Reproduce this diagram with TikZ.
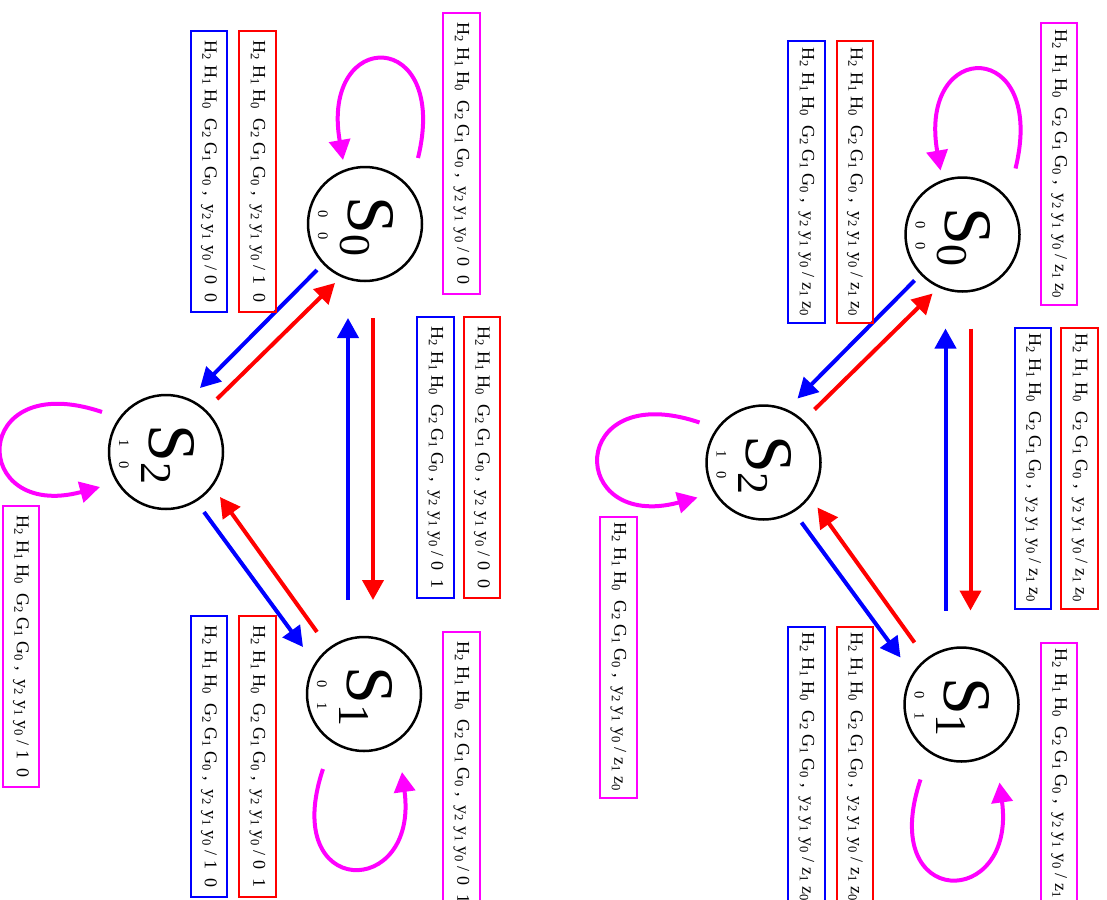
\documentclass[tikz,border=0pt]{standalone}
\usepackage{fontspec}
\setmainfont{Liberation Serif}
\usetikzlibrary{arrows.meta,calc}
\definecolor{cB}{RGB}{0,0,255}
\definecolor{cR}{RGB}{255,0,0}
\definecolor{cM}{RGB}{255,0,255}
\tikzset{
  state/.style={circle,draw=black,line width=2.5pt,minimum size=114pt,inner sep=0pt},
  bigname/.style={rotate=-90,anchor=base,inner sep=0pt},
  smallcode/.style={rotate=-90,anchor=base,inner sep=0pt,font=\fontsize{14.5}{15}\selectfont},
  lblbox/.style={rotate=-90,draw,line width=2pt,minimum width=281pt,minimum height=36.5pt,inner sep=0pt,font=\fontsize{18}{20}\selectfont},
  trans/.style={line width=4pt,-{Triangle[length=20pt,width=21pt]}},
}
\newcommand\stname[1]{{\fontsize{68}{68}\selectfont S}{\fontsize{44}{44}\selectfont\raisebox{-8pt}{#1}}}
\newcommand\lbl[1]{H\textsubscript{2} H\textsubscript{1} H\textsubscript{0}\ \ G\textsubscript{2} G\textsubscript{1} G\textsubscript{0} ,\ \ y\textsubscript{2} y\textsubscript{1} y\textsubscript{0} / #1}
\newcommand\fsm[2]{%
  \begin{scope}[shift={#2}]
    \node[state] (#1S0) at (365,224) {};
    \node[state] (#1S1) at (364,694) {};
    \node[state] (#1S2) at (166,452) {};
    \node[bigname] (#1S0n) at ($(#1S0)+(-17,2.5)$) {\stname{0}};
    \node[bigname] (#1S1n) at ($(#1S1)+(-17,2.5)$) {\stname{1}};
    \node[bigname] (#1S2n) at ($(#1S2)+(-17,2.5)$) {\stname{2}};
    \node[smallcode] (#1S0c) at ($(#1S0)+(-47,1)$) {0\quad 0};
    \node[smallcode] (#1S1c) at ($(#1S1)+(-47,1)$) {0\quad 1};
    \node[smallcode] (#1S2c) at ($(#1S2)+(-47,2)$) {1\quad 0};
    % transitions
    \draw[trans,cB] ($(#1S0)+(-48,46)$) -- ($(#1S2)+(34,-64)$);
    \draw[trans,cR] ($(#1S2)+(51,-53)$) -- ($(#1S0)+(-30,59)$);
    \draw[trans,cB] ($(#1S1)+(-16,-94)$) -- ($(#1S0)+(-17,94)$);
    \draw[trans,cR] ($(#1S0)+(8,94)$) -- ($(#1S1)+(9,-94)$);
    \draw[trans,cB] ($(#1S2)+(38,60)$) -- ($(#1S1)+(-61,-47)$);
    \draw[trans,cR] ($(#1S1)+(-47,-62)$) -- ($(#1S2)+(54,45)$);
    % self loops
    \draw[trans,cM] ($(#1S0)+(53,-66)$) .. controls ($(#1S0)+(85,-197)$) and ($(#1S0)+(-45,-197)$) .. ($(#1S0)+(-22,-64)$);
    \draw[trans,cM] ($(#1S1)+(-41,75)$) .. controls ($(#1S1)+(-85,206)$) and ($(#1S1)+(55,206)$) .. ($(#1S1)+(38,78)$);
    \draw[trans,cM] ($(#1S2)+(-64,-40)$) .. controls ($(#1S2)+(-197,-85)$) and ($(#1S2)+(-197,70)$) .. ($(#1S2)+(-66,35)$);
    % labels
    \node[lblbox,draw=cM] (#1LMa) at (461.5,153.5) {\lbl{\lMa}};
    \node[lblbox,draw=cB] (#1LBa) at (209,171.5) {\lbl{\lBa}};
    \node[lblbox,draw=cR] (#1LRa) at (257.5,171.5) {\lbl{\lRa}};
    \node[lblbox,draw=cR] (#1LRm) at (482,457.5) {\lbl{\lRm}};
    \node[lblbox,draw=cB] (#1LBm) at (435.5,457.5) {\lbl{\lBm}};
    \node[lblbox,draw=cB] (#1LBb) at (209,756.5) {\lbl{\lBb}};
    \node[lblbox,draw=cR] (#1LRb) at (257.5,756.5) {\lbl{\lRb}};
    \node[lblbox,draw=cM] (#1LMb) at (461.5,772.5) {\lbl{\lMb}};
    \node[lblbox,draw=cM] (#1LMc) at (21,646.5) {\lbl{\lMc}};
  \end{scope}}
\begin{document}
\begin{tikzpicture}[x=1pt,y=-1pt]
  \useasboundingbox (0,0) rectangle (1107,899);
  \clip (0,0) rectangle (1107,899);
  \def\lMa{0\enspace 0}\def\lBa{0\enspace 0}\def\lRa{1\enspace 0}\def\lRm{0\enspace 0}\def\lBm{0\enspace 1}
  \def\lBb{1\enspace 0}\def\lRb{0\enspace 1}\def\lMb{0\enspace 1}\def\lMc{1\enspace 0}
  \fsm{a}{(0,0)}
  \def\lMa{z\textsubscript{1} z\textsubscript{0}}\let\lBa\lMa\let\lRa\lMa\let\lRm\lMa\let\lBm\lMa
  \let\lBb\lMa\let\lRb\lMa\let\lMb\lMa\let\lMc\lMa
  \fsm{b}{(597.5,10.5)}
\end{tikzpicture}
\end{document}
